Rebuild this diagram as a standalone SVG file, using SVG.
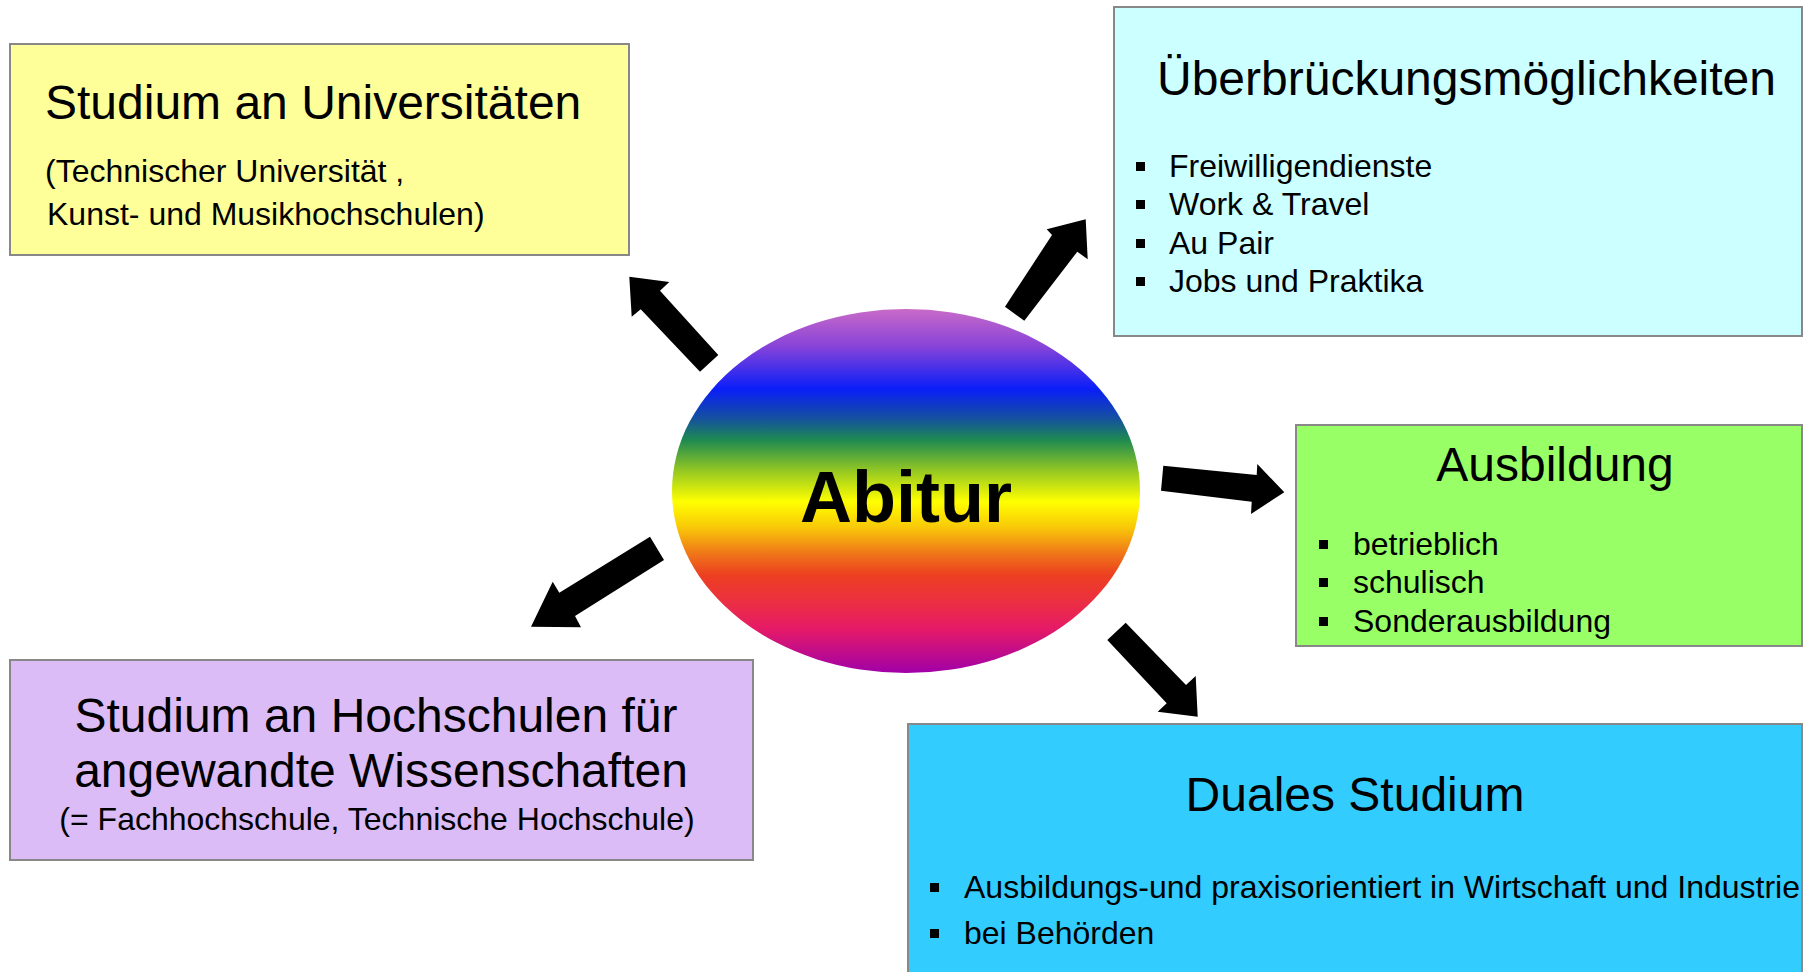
<svg xmlns="http://www.w3.org/2000/svg" width="1810" height="972" viewBox="0 0 1810 972">
<style>
.box{stroke:#888888;stroke-width:2}
.t{font-family:"Liberation Sans",Arial,sans-serif;fill:#000}
.h{font-size:48px}
.s{font-size:32px}
.arrow{fill:#000}
.bul{fill:#000}
</style>
<defs>
<linearGradient id="rainbow" x1="0" y1="0" x2="0" y2="1">
<stop offset="0" stop-color="#c86ac8"/>
<stop offset="0.10" stop-color="#8a44d8"/>
<stop offset="0.22" stop-color="#0a1ef8"/>
<stop offset="0.30" stop-color="#1450a0"/>
<stop offset="0.36" stop-color="#1e8a50"/>
<stop offset="0.45" stop-color="#9ccc20"/>
<stop offset="0.53" stop-color="#ffff00"/>
<stop offset="0.60" stop-color="#f8c808"/>
<stop offset="0.67" stop-color="#f07818"/>
<stop offset="0.73" stop-color="#ec4020"/>
<stop offset="0.80" stop-color="#ec3040"/>
<stop offset="0.88" stop-color="#e51a68"/>
<stop offset="1" stop-color="#a000a8"/>
</linearGradient>
</defs>
<rect width="1810" height="972" fill="#ffffff"/>

<g id="node-universitaeten">
<rect class="box" x="10" y="44" width="619" height="211" fill="#ffff99"/>
<text class="t h" x="45" y="119">Studium an Universitäten</text>
<text class="t s" x="45" y="182">(Technischer Universität ,</text>
<text class="t s" x="47" y="225">Kunst- und Musikhochschulen)</text>
</g>

<g id="node-ueberbrueckung">
<rect class="box" x="1114" y="7" width="688" height="329" fill="#ccffff"/>
<text class="t h" x="1157" y="95">Überbrückungsmöglichkeiten</text>
<rect class="bul" x="1136" y="162" width="9" height="9"/>
<text class="t s" x="1169" y="177">Freiwilligendienste</text>
<rect class="bul" x="1136" y="200" width="9" height="9"/>
<text class="t s" x="1169" y="215">Work &amp; Travel</text>
<rect class="bul" x="1136" y="239" width="9" height="9"/>
<text class="t s" x="1169" y="254">Au Pair</text>
<rect class="bul" x="1136" y="277" width="9" height="9"/>
<text class="t s" x="1169" y="292">Jobs und Praktika</text>
</g>

<g id="node-ausbildung">
<rect class="box" x="1296" y="425" width="506" height="221" fill="#99ff66"/>
<text class="t h" x="1555" y="481" text-anchor="middle">Ausbildung</text>
<rect class="bul" x="1319" y="540" width="9" height="9"/>
<text class="t s" x="1353" y="555">betrieblich</text>
<rect class="bul" x="1319" y="578" width="9" height="9"/>
<text class="t s" x="1353" y="593">schulisch</text>
<rect class="bul" x="1319" y="617" width="9" height="9"/>
<text class="t s" x="1353" y="632">Sonderausbildung</text>
</g>

<g id="node-hochschulen">
<rect class="box" x="10" y="660" width="743" height="200" fill="#dbbcf6"/>
<text class="t h" x="376" y="732" text-anchor="middle">Studium an Hochschulen für</text>
<text class="t h" x="381" y="787" text-anchor="middle">angewandte Wissenschaften</text>
<text class="t s" x="377" y="830" text-anchor="middle">(= Fachhochschule, Technische Hochschule)</text>
</g>

<g id="node-duales">
<rect class="box" x="908" y="724" width="894" height="260" fill="#33ccff"/>
<text class="t h" x="1355" y="811" text-anchor="middle">Duales Studium</text>
<rect class="bul" x="930" y="883" width="9" height="9"/>
<text class="t s" x="964" y="898">Ausbildungs-und praxisorientiert in Wirtschaft und Industrie</text>
<rect class="bul" x="930" y="929" width="9" height="9"/>
<text class="t s" x="964" y="944">bei Behörden</text>
</g>

<g id="node-abitur">
<ellipse cx="906" cy="491" rx="234" ry="182" fill="url(#rainbow)"/>
<text class="t" x="906" y="522" text-anchor="middle" font-size="72" font-weight="bold">Abitur</text>
</g>

<g id="connectors">
<polygon class="arrow" points="718.3,355 660,290.7 669.3,282 629.3,276.7 631.7,316.7 640.7,309.3 700,371.7"/>
<polygon class="arrow" points="1005,306.7 1052,235 1046.7,229.3 1085.7,219.3 1087.7,259.3 1077.3,251.7 1024.3,320.7"/>
<polygon class="arrow" points="1163.3,465.7 1256.7,475 1257.3,464 1284.3,492.3 1251,514 1251.7,501.7 1161,490.7"/>
<polygon class="arrow" points="1125.7,622.7 1186,685 1195.7,676 1197.7,716.7 1157.7,711.7 1166.7,703.3 1107.3,640"/>
<polygon class="arrow" points="650,536.7 559.3,592.7 552.7,581.7 531,626.7 581,627.3 575,616 664,560"/>
</g>
</svg>
